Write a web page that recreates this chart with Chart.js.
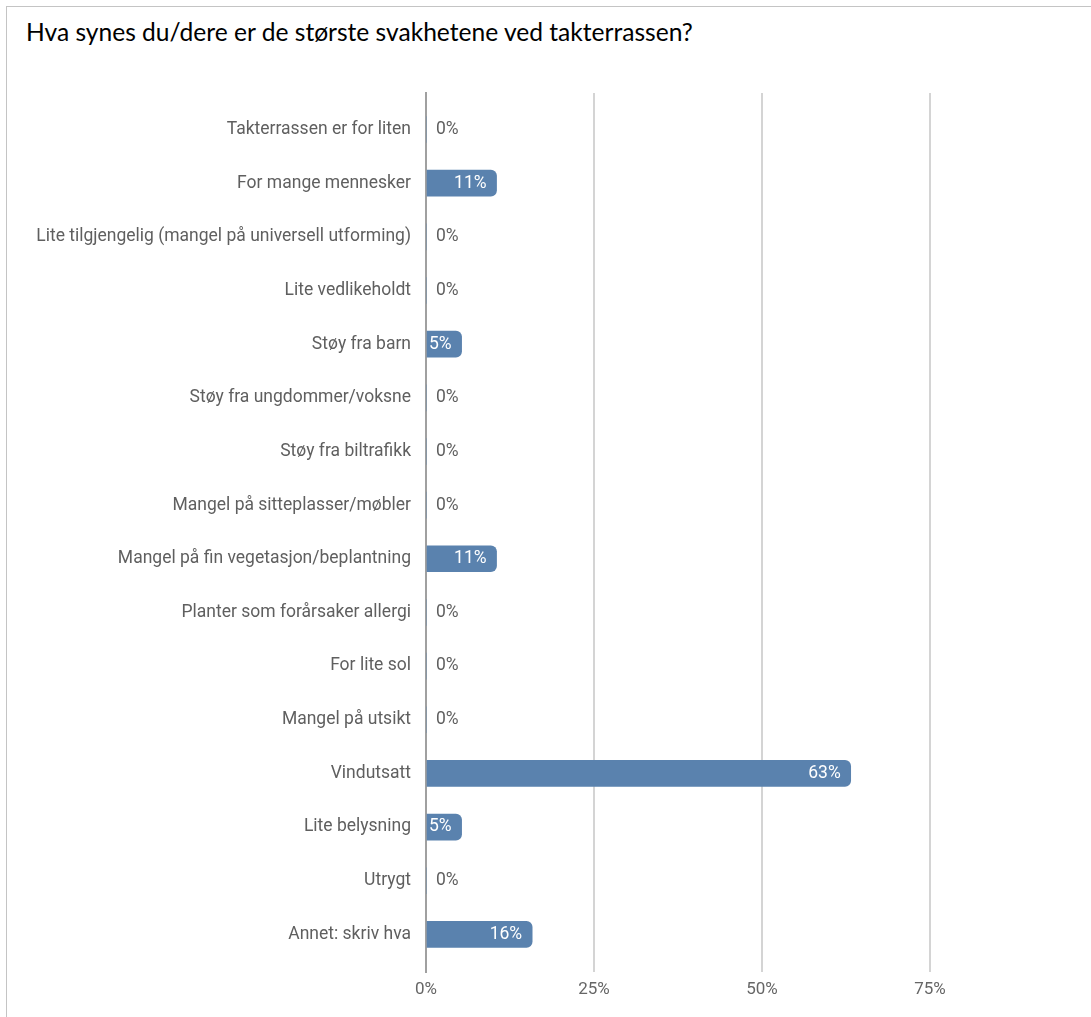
<!DOCTYPE html>
<html>
<head>
<meta charset="utf-8">
<script src="https://cdn.jsdelivr.net/npm/chart.js@4.4.0/dist/chart.umd.min.js"></script>
<style>
  html, body { margin: 0; padding: 0; background: #fff; overflow: hidden; }
  #frame { position: absolute; left: 6px; top: 6px; width: 1200px; height: 1100px; border-top: 1px solid #c4c4c4; border-left: 1px solid #c4c4c4; }
  #title { position: absolute; left: 26px; top: 17px; font-family: Lato, sans-serif; font-size: 22px; color: #000; white-space: nowrap; }
  #chart { position: absolute; left: 0; top: 0; }
</style>
</head>
<body>
<div id="frame"></div>
<div id="title">Hva synes du/dere er de største svakhetene ved takterrassen?</div>
<canvas id="chart" width="1110" height="1017"></canvas>
<script>
const categories = [
  'Takterrassen er for liten',
  'For mange mennesker',
  'Lite tilgjengelig (mangel på universell utforming)',
  'Lite vedlikeholdt',
  'Støy fra barn',
  'Støy fra ungdommer/voksne',
  'Støy fra biltrafikk',
  'Mangel på sitteplasser/møbler',
  'Mangel på fin vegetasjon/beplantning',
  'Planter som forårsaker allergi',
  'For lite sol',
  'Mangel på utsikt',
  'Vindutsatt',
  'Lite belysning',
  'Utrygt',
  'Annet: skriv hva'
];
const shares = [0, 10.5, 0, 0, 5.3, 0, 0, 0, 10.5, 0, 0, 0, 63.2, 5.3, 0, 15.8];
const xTicks = [0, 25, 50, 75];

// fit title to the width seen in the reference
const titleEl = document.getElementById('title');
titleEl.style.fontSize = (22 * 667 / titleEl.getBoundingClientRect().width) + 'px';

const labelFont = '17.5px Roboto';

const valueLabels = {
  id: 'valueLabels',
  afterDatasetsDraw(chart) {
    const ctx = chart.ctx;
    const meta = chart.getDatasetMeta(0);
    ctx.save();
    ctx.font = labelFont;
    ctx.textBaseline = 'middle';
    meta.data.forEach((bar, i) => {
      const v = shares[i];
      const txt = Math.round(v) + '%';
      if (v === 0) {
        ctx.fillStyle = '#5f5f5f';
        ctx.textAlign = 'left';
        ctx.fillText(txt, bar.base + 10, bar.y);
      } else {
        const w = ctx.measureText(txt).width;
        let right = bar.x - 10;
        if (right - w < bar.base + 1) right = bar.base + 1 + w;
        ctx.fillStyle = '#ffffff';
        ctx.textAlign = 'right';
        ctx.fillText(txt, right, bar.y);
      }
    });
    ctx.restore();
  }
};

new Chart(document.getElementById('chart'), {
  type: 'bar',
  data: {
    datasets: [{
      data: shares.map((v, i) => ({ x: v, y: i })),
      backgroundColor: '#5a82ae',
      borderRadius: { topLeft: 0, bottomLeft: 0, topRight: 6, bottomRight: 6 },
      borderSkipped: false,
      barThickness: 26
    }]
  },
  options: {
    indexAxis: 'y',
    responsive: false,
    animation: false,
    layout: { padding: { left: 0, right: 12, top: 93, bottom: 0 } },
    plugins: { legend: { display: false }, tooltip: { enabled: false } },
    scales: {
      x: {
        type: 'linear',
        min: 0, max: 100,
        afterBuildTicks: (s) => { s.ticks = xTicks.map(v => ({ value: v })); },
        afterFit: (s) => { s.height = 45; },
        grid: {
          drawTicks: false,
          color: (c) => c.tick && c.tick.value === 0 ? 'rgba(0,0,0,0)' : '#d4d4d4',
          lineWidth: 2
        },
        border: { display: false },
        ticks: {
          padding: 8,
          color: '#666',
          font: { family: 'Roboto', size: 17 },
          callback: (v) => v + '%'
        }
      },
      y: {
        type: 'linear',
        reverse: true,
        offset: false,
        min: -0.68, max: 15.7,
        afterBuildTicks: (s) => { s.ticks = categories.map((c, i) => ({ value: i })); },
        afterFit: (s) => { s.width = 426; },
        grid: { display: false, drawTicks: false },
        border: { display: true, color: '#a0a0a0', width: 2 },
        ticks: {
          padding: 15,
          color: '#5f5f5f',
          font: { family: 'Roboto', size: 17.5 },
          callback: (v) => categories[v] !== undefined ? categories[v] : ''
        }
      }
    }
  },
  plugins: [valueLabels]
});
</script>
</body>
</html>
